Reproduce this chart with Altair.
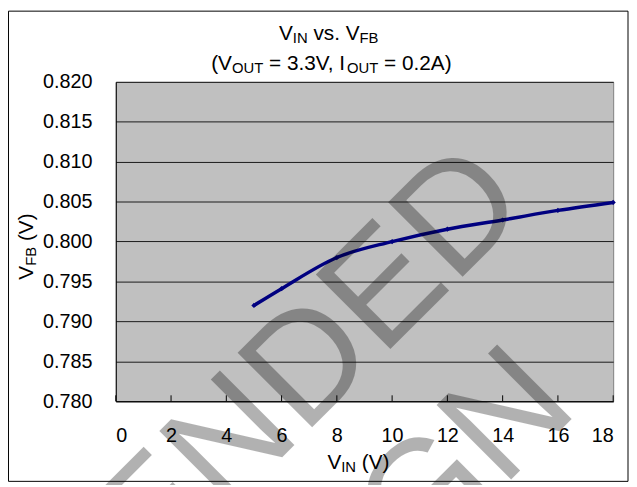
import altair as alt
import pandas as pd

# ---- data ----
vin = [5, 6, 8, 10, 12, 14, 16, 18]
vfb = [0.7920, 0.7941, 0.7980, 0.8000, 0.80155, 0.8027, 0.8039, 0.8049]
x_ticks = [0, 2, 4, 6, 8, 10, 12, 14, 16, 18]
y_ticks = [0.780, 0.785, 0.790, 0.795, 0.800, 0.805, 0.810, 0.815, 0.820]

FONT = "Liberation Sans"
W, H = 503, 323

df = pd.DataFrame({"vin": vin, "vfb": vfb})
ticks_df = pd.DataFrame({"vin": x_ticks})

xscale = alt.Scale(domain=[0, 18], nice=False, zero=False)
yscale = alt.Scale(domain=[0.78, 0.82], nice=False, zero=False)
xaxis = alt.Axis(values=x_ticks, title=None, grid=False, ticks=False, tickSize=0,
                 labelFont=FONT, labelFontSize=20, labelColor="black",
                 labelPadding=25, domainColor="black", domainWidth=1)
yaxis = alt.Axis(values=y_ticks, title=None, format=".3f", grid=True,
                 gridColor="#1a1a1a", gridWidth=1, ticks=False, tickSize=0,
                 labelFont=FONT, labelFontSize=20, labelColor="black",
                 labelPadding=24, domainColor="black", domainWidth=1)

base = alt.Chart(df).encode(
    x=alt.X("vin:Q", scale=xscale, axis=xaxis),
    y=alt.Y("vfb:Q", scale=yscale, axis=yaxis),
)
line = base.mark_line(color="#000080", strokeWidth=3.5, interpolate="monotone")
pts = base.mark_point(shape="diamond", filled=True, color="#000080", size=28, opacity=1)

tick_marks = alt.Chart(ticks_df).mark_rule(color="black", strokeWidth=1).encode(
    x=alt.X("vin:Q", scale=xscale, axis=xaxis),
    y=alt.value(H),
    y2=alt.value(H - 6),
)

# ---- rich text helpers (subscripts) ----
WID = {'V': 667, 'I': 278, 'N': 722, 'O': 778, 'U': 722, 'T': 611, 'F': 611,
       'B': 667, 'v': 500, 's': 500, '.': 278, ' ': 278, '(': 333, ')': 333,
       '=': 584, 'A': 667, ',': 278}
for d in "0123456789":
    WID[d] = 556


def tw(s, size):
    return sum(WID.get(c, 556) for c in s) * size / 1000.0


one = alt.Data(values=[{"a": 1}])


def rich(segments, x0, y0, main=21, sub=15, sub_dy=3, vertical=False):
    layers = []
    pos = 0.0
    for text, is_sub in segments:
        size = sub if is_sub else main
        off = sub_dy if is_sub else 0
        lead = len(text) - len(text.lstrip(" "))
        pos += tw(" " * lead, size)
        core = text.strip(" ")
        trail = len(text.lstrip(" ")) - len(core)
        if vertical:
            px, py, ang = x0 + off, y0 - pos, 270
        else:
            px, py, ang = x0 + pos, y0 + off, 0
        layers.append(
            alt.Chart(one).mark_text(text=core, font=FONT, fontSize=size, align="left",
                                     baseline="alphabetic", angle=ang, color="black")
            .encode(x=alt.value(px), y=alt.value(py))
        )
        pos += tw(core, size) + tw(" " * trail, size)
    return layers


title1 = rich([("V", 0), ("IN", 1), (" vs. ", 0), ("V", 0), ("FB", 1)], 165, -42)
title2 = rich([("(V", 0), ("OUT", 1), (" = 3.3V, I", 0), ("OUT", 1), (" = 0.2A)", 0)], 96.5, -12)
xtitle = rich([("V", 0), ("IN", 1), (" (V)", 0)], 214, 392)
ytitle = rich([("V", 0), ("FB", 1), (" (V)", 0)], -83.5, 200, vertical=True)

border = alt.Chart(one).mark_rect(fillOpacity=0, stroke="black", strokeWidth=1).encode(
    x=alt.value(-108.5), x2=alt.value(518), y=alt.value(-71.5), y2=alt.value(404)
)

wm1 = alt.Chart(one).mark_text(text="NOT RECOMMENDED", font=FONT, fontSize=155, align="right",
                               baseline="alphabetic", angle=315, color="black", opacity=0.3
                               ).encode(x=alt.value(421), y=alt.value(127))
wm2 = alt.Chart(one).mark_text(text="FOR NEW DESIGN", font=FONT, fontSize=155, align="right",
                               baseline="alphabetic", angle=315, color="black", opacity=0.3
                               ).encode(x=alt.value(470), y=alt.value(332))

chart = alt.layer(
    line, pts, tick_marks, *title1, *title2, *xtitle, *ytitle, border, wm1, wm2
).properties(
    width=W, height=H, autosize="none",
    padding={"left": 109, "top": 72, "right": 16, "bottom": 82},
    background="white",
).configure_view(
    fill="#C0C0C0", stroke="#808080", strokeWidth=1
)

chart.save("out.html", embed_options={"renderer": "svg", "actions": False})
